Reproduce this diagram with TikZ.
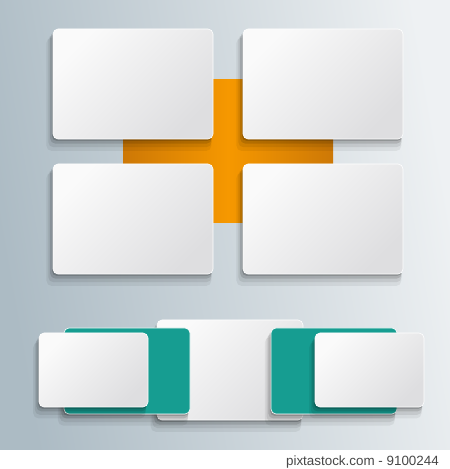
\documentclass[tikz,border=0pt]{standalone}
\usepackage{fontspec}
\newfontfamily\capfont{Liberation Sans}
\usepackage{tikz}
\usetikzlibrary{shadows}
\usetikzlibrary{positioning}
\definecolor{hgL}{RGB}{172,187,196}
\definecolor{hgR}{RGB}{238,241,243}
\definecolor{orangeH}{RGB}{246,152,0}
\definecolor{orangeD}{RGB}{205,120,6}
\definecolor{tuerkis}{RGB}{22,157,145}
\definecolor{karteH}{RGB}{250,250,250}
\definecolor{karteD}{RGB}{222,222,224}
\tikzset{
  Schatten/.style={
    drop shadow={shadow xshift=-1pt, shadow yshift=-2pt, fill=black, opacity=.16},
    drop shadow={shadow xshift=-2pt, shadow yshift=-4pt, fill=black, opacity=.12, shadow scale=1.01},
    drop shadow={shadow xshift=-3pt, shadow yshift=-7pt, fill=black, opacity=.08, shadow scale=1.02},
    drop shadow={shadow xshift=-4pt, shadow yshift=-10pt, fill=black, opacity=.06, shadow scale=1.03}}, % weicher Schatten
  Blatt/.style={draw=white, line width=.6pt, rounded corners=5pt, inner sep=0pt, outer sep=0pt,
    anchor=north west, Schatten}, % Grundform
  Karte/.style={Blatt, left color=karteH, right color=karteD, shading angle=45}, % weisse Karten
  Tafel/.style={Blatt, fill=tuerkis} % gruene Unterlagen
}

\begin{document}
\begin{tikzpicture}[x=1pt, y=1pt]
\useasboundingbox (0,0) rectangle (450,469);

%Hintergrund
\fill[left color=hgL, right color=hgR, shading angle=100] (0,19) rectangle (450,469);
\fill[white] (0,0) rectangle (450,19);

%Kreuz
\node (kreuz) [anchor=north west, minimum width=210pt, minimum height=143pt, inner sep=0pt,
  left color=orangeD, right color=orangeD, middle color=orangeH] at (123,390) {};

%Karten oben
\node (k11) [Karte, minimum width=160pt, minimum height=110pt] at (53,440) {};
\node (k12) [Karte, minimum width=160pt, minimum height=110pt] at (243,440) {};
\node (k21) [Karte, minimum width=160pt, minimum height=110pt] at (53,305) {};
\node (k22) [Karte, minimum width=160pt, minimum height=110pt] at (243,305) {};

%Karten unten
\node (mitte) [Karte, minimum width=146pt, minimum height=100pt] at (157,149) {};
\node (tl) [Tafel, minimum width=126pt, minimum height=86pt] at (64,141) {};
\node (tr) [Tafel, minimum width=126pt, minimum height=86pt] at (271,141) {};
\node (kl) [Karte, minimum width=109pt, minimum height=74pt] at (39,136) {};
\node (kr) [Karte, minimum width=109pt, minimum height=74pt] at (315,136) {};

%Bildnachweis
\node (quelle) [anchor=base east, inner sep=0pt, text=black!72, font=\capfont\fontsize{13.4}{14}\selectfont]
  at (439,3) {pixtastock.com - 9100244};

\end{tikzpicture}
\end{document}
